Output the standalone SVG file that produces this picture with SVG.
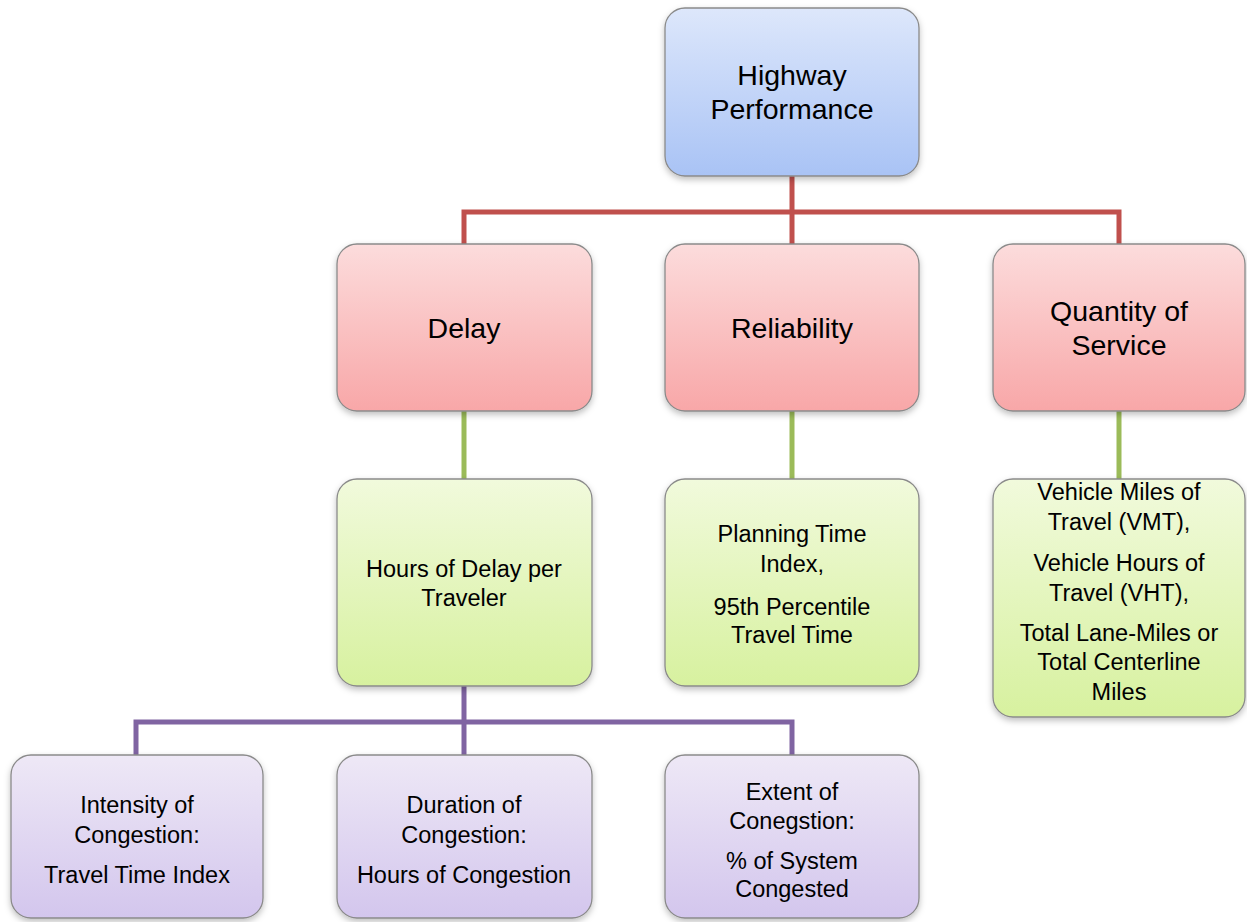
<svg xmlns="http://www.w3.org/2000/svg" width="1247" height="922" viewBox="0 0 1247 922">
<style>
.box{stroke:#8a8a8a;stroke-width:1.3;filter:url(#sh)}
.t{font-family:"Liberation Sans",Arial,sans-serif;fill:#000;text-anchor:middle}
.big{font-size:28.5px}
.sm{font-size:23.5px}
.c{fill:none;stroke-width:5;stroke-linecap:butt;stroke-linejoin:miter}
</style>
<defs>
<filter id="sh" x="-10%" y="-10%" width="120%" height="125%">
<feDropShadow dx="0" dy="3" stdDeviation="3" flood-color="#000" flood-opacity="0.25"/>
</filter>
<linearGradient id="gb" x1="0" y1="0" x2="0" y2="1"><stop offset="0" stop-color="#dde7fb"/><stop offset="1" stop-color="#a9c3f5"/></linearGradient>
<linearGradient id="gr" x1="0" y1="0" x2="0" y2="1"><stop offset="0" stop-color="#fcdcdc"/><stop offset="1" stop-color="#f8a7a8"/></linearGradient>
<linearGradient id="gg" x1="0" y1="0" x2="0" y2="1"><stop offset="0" stop-color="#f1fadc"/><stop offset="1" stop-color="#d7f19f"/></linearGradient>
<linearGradient id="gp" x1="0" y1="0" x2="0" y2="1"><stop offset="0" stop-color="#eee8f6"/><stop offset="1" stop-color="#d3c6ed"/></linearGradient>
</defs>
<rect width="1247" height="922" fill="#fff"/>
<g id="connectors">
<path class="c" stroke="#c0504d" d="M792 176V212M464 244V212H1119V244M792 212V244"/>
<path class="c" stroke="#9bbb59" d="M464 411V479M792 411V479M1119 411V479"/>
<path class="c" stroke="#8064a2" d="M464 686V722M136 755V722H792V755M464 722V755"/>
</g>
<g id="n-highway">
<rect class="box" x="665" y="8" width="254" height="168" rx="20" fill="url(#gb)"/>
<text class="t big" x="792" y="85">Highway</text>
<text class="t big" x="792" y="119">Performance</text>
</g>
<g id="n-delay">
<rect class="box" x="337" y="244" width="255" height="167" rx="20" fill="url(#gr)"/>
<text class="t big" x="464" y="338">Delay</text>
</g>
<g id="n-reliability">
<rect class="box" x="665" y="244" width="254" height="167" rx="20" fill="url(#gr)"/>
<text class="t big" x="792" y="338">Reliability</text>
</g>
<g id="n-quantity">
<rect class="box" x="993" y="244" width="252" height="167" rx="20" fill="url(#gr)"/>
<text class="t big" x="1119" y="321">Quantity of</text>
<text class="t big" x="1119" y="355">Service</text>
</g>
<g id="n-hours">
<rect class="box" x="337" y="479" width="255" height="207" rx="20" fill="url(#gg)"/>
<text class="t sm" x="464" y="577">Hours of Delay per</text>
<text class="t sm" x="464" y="606">Traveler</text>
</g>
<g id="n-planning">
<rect class="box" x="665" y="479" width="254" height="207" rx="20" fill="url(#gg)"/>
<text class="t sm" x="792" y="542">Planning Time</text>
<text class="t sm" x="792" y="572">Index,</text>
<text class="t sm" x="792" y="615">95th Percentile</text>
<text class="t sm" x="792" y="643">Travel Time</text>
</g>
<g id="n-vehicle">
<rect class="box" x="993" y="479" width="252" height="238" rx="20" fill="url(#gg)"/>
<text class="t sm" x="1119" y="500">Vehicle Miles of</text>
<text class="t sm" x="1119" y="530">Travel (VMT),</text>
<text class="t sm" x="1119" y="571">Vehicle Hours of</text>
<text class="t sm" x="1119" y="601">Travel (VHT),</text>
<text class="t sm" x="1119" y="641">Total Lane-Miles or</text>
<text class="t sm" x="1119" y="670">Total Centerline</text>
<text class="t sm" x="1119" y="700">Miles</text>
</g>
<g id="n-intensity">
<rect class="box" x="11" y="755" width="252" height="163" rx="20" fill="url(#gp)"/>
<text class="t sm" x="137" y="813">Intensity of</text>
<text class="t sm" x="137" y="843">Congestion:</text>
<text class="t sm" x="137" y="883">Travel Time Index</text>
</g>
<g id="n-duration">
<rect class="box" x="337" y="755" width="255" height="163" rx="20" fill="url(#gp)"/>
<text class="t sm" x="464" y="813">Duration of</text>
<text class="t sm" x="464" y="843">Congestion:</text>
<text class="t sm" x="464" y="883">Hours of Congestion</text>
</g>
<g id="n-extent">
<rect class="box" x="665" y="755" width="254" height="163" rx="20" fill="url(#gp)"/>
<text class="t sm" x="792" y="800">Extent of</text>
<text class="t sm" x="792" y="829">Conegstion:</text>
<text class="t sm" x="792" y="869">% of System</text>
<text class="t sm" x="792" y="897">Congested</text>
</g>
</svg>
